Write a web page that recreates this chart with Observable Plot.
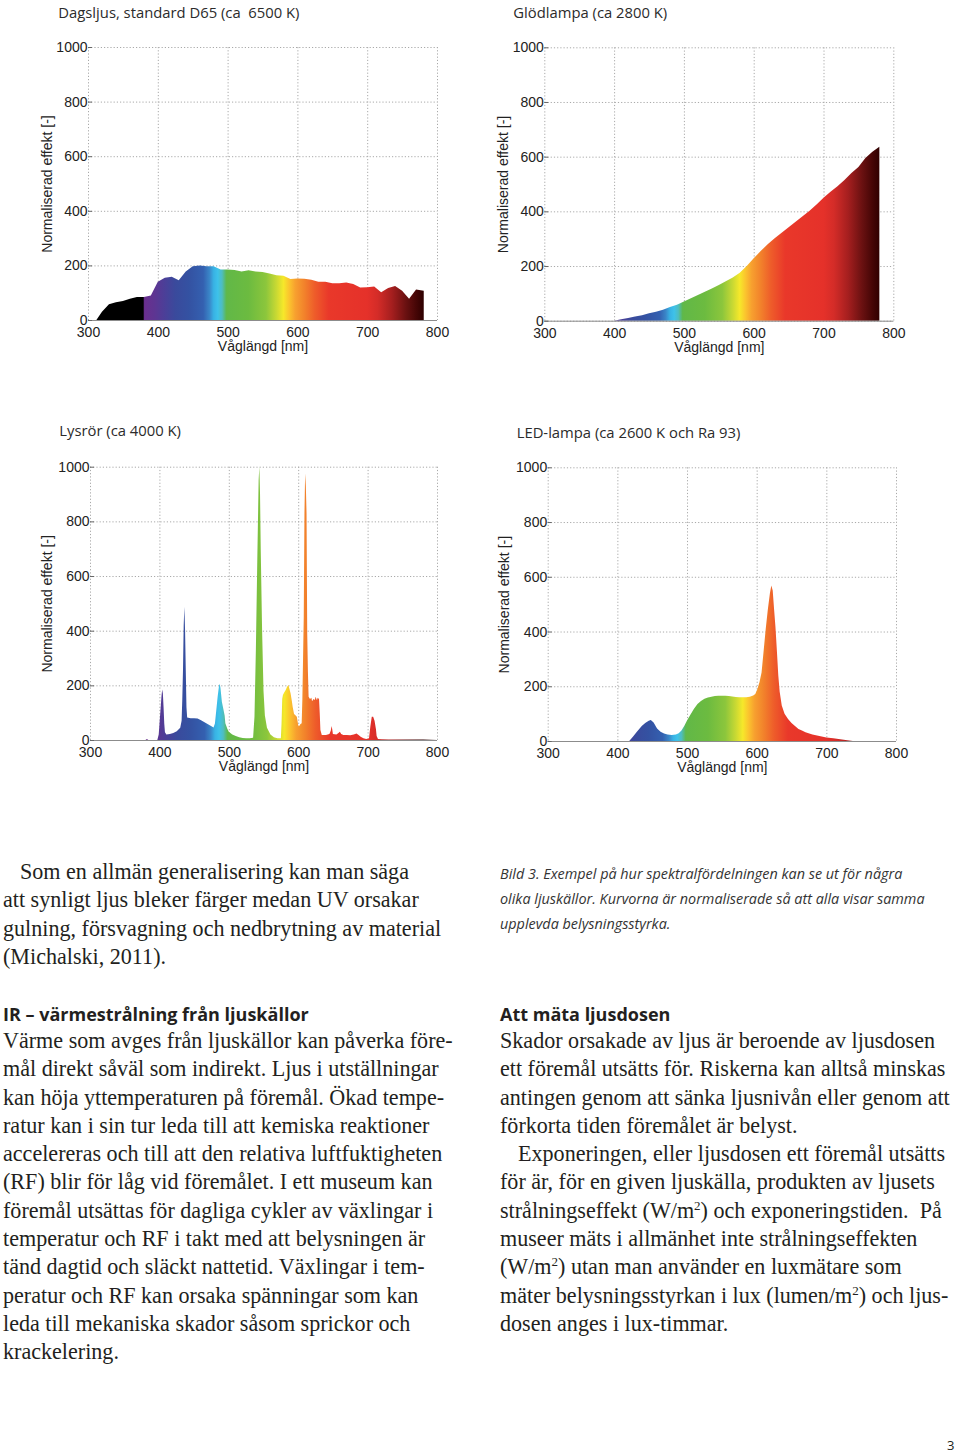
<!DOCTYPE html>
<html><head><meta charset="utf-8">
<script src="https://cdn.jsdelivr.net/npm/d3@7"></script>
<script src="https://cdn.jsdelivr.net/npm/@observablehq/plot@0.6"></script>
<style>
html,body{margin:0;padding:0;background:#fff;}
#page{position:relative;width:960px;height:1454px;overflow:hidden;background:#fff;}
.chart{position:absolute;}
.t{position:absolute;white-space:pre;line-height:0;}
.ctitle{font-family:"Open Sans",sans-serif;font-size:14.8px;color:#2b2b2b;}
.serif{font-family:"Liberation Serif",serif;font-size:22.1px;color:#231f20;}
.head{font-family:"Open Sans",sans-serif;font-weight:700;font-size:18px;color:#231f20;}
.cap{font-family:"Open Sans",sans-serif;font-style:italic;font-size:14.4px;color:#333;}
.pnum{font-family:"Open Sans",sans-serif;font-size:13px;color:#231f20;}
.sup{font-size:13px;position:relative;top:-8px;}
</style>
</head><body><div id="page"></div>
<script>
// ---------- data ----------
const xTicks = [300, 400, 500, 600, 700, 800];
const yTicks = [0, 200, 400, 600, 800, 1000];
const xLabel = "Våglängd [nm]";
const yLabel = "Normaliserad effekt [-]";
const chartTitles = ["Dagsljus, standard D65 (ca  6500 K)", "Glödlampa (ca 2800 K)", "Lysrör (ca 4000 K)", "LED-lampa (ca 2600 K och Ra 93)"];

const d65Nm  = [312,320,330,340,350,360,370,380,390,400,410,420,430,440,450,460,470,480,490,500,510,520,530,540,550,560,570,580,590,600,610,620,630,640,650,660,670,680,690,700,710,720,730,740,750,760,770,781];
const d65Val = [0,30,58,65,70,78,84,84,90,140,155,158,146,178,197,200,197,197,185,185,183,178,182,178,176,170,164,162,150,152,151,147,140,140,135,135,137,132,119,120,123,102,117,125,107,78,112,107];

const glodNm  = [400,410,420,430,440,450,460,470,480,490,500,510,520,530,540,550,560,570,580,590,600,610,620,630,640,650,660,670,680,690,700,710,720,730,740,750,760,770,780];
const glodVal = [0,5,10,15,20,27,33,40,50,58,70,82,94,106,118,131,144,158,175,200,228,255,280,302,322,342,362,382,402,425,450,472,492,515,540,562,595,618,636];

const lysrorNm  = [300,380,382,384,397,399,401,403,404,405,406,407,408,410,415,420,425,430,432,433,434,435,436,437,438,439,440,445,450,455,460,465,470,475,478,480,482,484,486,487,488,490,492,494,495,498,500,505,510,515,520,525,530,535,537,539,541,543,544,545,546,548,550,552,555,560,565,570,575,576,577,578,580,582,584,586,587,589,591,592,594,596,598,600,601,603,605,606,607,608,609,610,611,612,613,614,615,617,619,620,622,624,625,627,628,630,631,632,634,640,645,647,648,649,650,655,658,660,662,665,670,675,680,684,687,690,694,698,702,704,706,708,710,712,713,715,720,730,750,780,800];
const lysrorVal = [0,0,4,0,0,20,90,160,185,170,120,60,28,20,22,26,32,45,70,150,256,420,488,400,256,120,82,80,80,79,72,65,58,50,46,60,110,160,200,205,190,140,115,90,61,40,30,20,15,10,7,6,6,8,85,329,650,950,1000,900,700,400,180,90,45,20,10,6,6,60,150,165,175,183,195,201,190,171,140,122,95,91,85,55,49,58,61,150,300,451,830,975,930,830,390,250,158,150,155,142,150,146,158,145,155,150,100,37,18,18,22,35,51,40,22,20,26,30,22,18,18,17,20,24,18,12,6,4,6,50,85,85,70,40,15,4,3,2,2,2,0];

const ledNm  = [417,422,428,435,440,445,448,452,457,462,467,472,478,484,488,492,496,500,505,510,515,520,525,530,535,540,545,550,555,560,565,570,575,580,585,590,595,598,601,604,607,610,613,616,619,621,623,625,627,629,631,633,636,640,645,650,655,660,665,670,680,690,700,710,720,730,738];
const ledVal = [0,15,34,55,66,74,77,68,46,34,27,24,22,24,28,38,55,75,97,118,135,146,154,159,162,164,165,165,165,164,163,161,160,160,160,162,166,172,190,215,250,330,410,480,540,568,550,480,415,330,240,180,130,100,80,66,55,44,38,32,24,18,13,10,6,3,0];

// visible-spectrum colour stops (wavelength, colour)
const spectrumNm    = [300,379,381,395,410,425,445,465,474,480,486,492,498,500,530,555,570,580,588,597,610,625,645,700,715,735,755,770,780,800];
const spectrumColor = ["#000000","#000000","#6a2f8e","#5e3592","#4b3f98","#3a4a9c","#3452a2","#3460b0","#3a86c8","#38b2e4","#3ec2ea","#4ebdc0","#5db84f","#62b847","#6cbb40","#8cc63c","#c9d933","#f6e82a","#fbc52e","#f7a02f","#f2822b","#ee5c2a","#e9382a","#e5312a","#d42c28","#a61f1f","#6b1111","#460606","#300000","#200000"];

// ---------- text ----------
const leftPara1 = ["Som en allmän generalisering kan man säga","att synligt ljus bleker färger medan UV orsakar","gulning, försvagning och nedbrytning av material","(Michalski, 2011)."];
const leftHead = "IR – värmestrålning från ljuskällor";
const leftPara2 = ["Värme som avges från ljuskällor kan påverka före-","mål direkt såväl som indirekt. Ljus i utställningar","kan höja yttemperaturen på föremål. Ökad tempe-","ratur kan i sin tur leda till att kemiska reaktioner","accelereras och till att den relativa luftfuktigheten","(RF) blir för låg vid föremålet. I ett museum kan","föremål utsättas för dagliga cykler av växlingar i","temperatur och RF i takt med att belysningen är","tänd dagtid och släckt nattetid. Växlingar i tem-","peratur och RF kan orsaka spänningar som kan","leda till mekaniska skador såsom sprickor och","krackelering."];
const captionLines = ["Bild 3. Exempel på hur spektralfördelningen kan se ut för några","olika ljuskällor. Kurvorna är normaliserade så att alla visar samma","upplevda belysningsstyrka."];
const rightHead = "Att mäta ljusdosen";
const rightPara = ["Skador orsakade av ljus är beroende av ljusdosen","ett föremål utsätts för. Riskerna kan alltså minskas","antingen genom att sänka ljusnivån eller genom att","förkorta tiden föremålet är belyst.","Exponeringen, eller ljusdosen ett föremål utsätts","för är, för en given ljuskälla, produkten av ljusets","strålningseffekt (W/m²) och exponeringstiden.  På","museer mäts i allmänhet inte strålningseffekten","(W/m²) utan man använder en luxmätare som","mäter belysningsstyrkan i lux (lumen/m²) och ljus-","dosen anges i lux-timmar."];
const pageNumber = "3";

// ---------- layout ----------
const page = document.getElementById("page");
const series = [
  d65Nm.map((nm, i) => ({nm, v: d65Val[i]})),
  glodNm.map((nm, i) => ({nm, v: glodVal[i]})),
  lysrorNm.map((nm, i) => ({nm, v: lysrorVal[i]})),
  ledNm.map((nm, i) => ({nm, v: ledVal[i]}))
];
const layout = [
  {svg: [0, 30, 470, 330],   frame: [88, 47, 437, 320],     title: [58.3, 17.5],  ylab: 47},
  {svg: [480, 30, 470, 330], frame: [544.3, 47.3, 893.3, 320.7], title: [513.3, 17.5], ylab: 503},
  {svg: [0, 450, 470, 330],  frame: [90, 466.7, 437, 740],  title: [59.3, 435.7], ylab: 47},
  {svg: [480, 450, 470, 330],frame: [547.7, 467.3, 896, 741], title: [516.7, 437.7], ylab: 504}
];

function addText(str, cls, x, baseline, emOff, fs) {
  const d = document.createElement("div");
  d.className = "t " + cls;
  d.style.left = x + "px";
  d.style.top = (baseline - emOff * fs) + "px";
  d.innerHTML = str.replace(/²/g, '<span class="sup">2</span>');
  page.appendChild(d);
  return d;
}
const OPEN = 0.388, SERIF = 0.3375;

layout.forEach((L, k) => {
  const [sl, st, sw, sh] = L.svg;
  const [fl, ft, fr, fb] = L.frame;
  const id = "spec" + k;
  const svg = Plot.plot({
    width: sw, height: sh,
    marginLeft: fl - sl, marginTop: ft - st, marginRight: sl + sw - fr, marginBottom: st + sh - fb,
    x: {domain: [300, 800]},
    y: {domain: [0, 1000]},
    style: {fontFamily: "'Liberation Sans', Arial, sans-serif", fontSize: "14px", color: "#222", background: "none", overflow: "visible"},
    marks: [
      Plot.gridX({ticks: xTicks, stroke: "#a9a9a9", strokeOpacity: 1, strokeDasharray: "1.2,2"}),
      Plot.gridY({ticks: yTicks, stroke: "#a9a9a9", strokeOpacity: 1, strokeDasharray: "1.2,2"}),
      Plot.areaY(series[k], {x: "nm", y: "v", fill: `url(#${id})`}),
      Plot.ruleY([0], {stroke: "#8c8c8c"}),
      Plot.axisX({ticks: xTicks, tickFormat: d => String(d), tickSize: 0, tickPadding: 6.5, label: null, fontSize: 14}),
      Plot.axisY({ticks: yTicks, tickFormat: d => String(d), tickSize: -4, tickPadding: 5, label: null, fontSize: 14, stroke: "#666"}),
      Plot.text([xLabel], {text: d => d, frameAnchor: "bottom", dy: 30.5, fontSize: 14}),
      Plot.text([yLabel], {text: d => d, frameAnchor: "left", textAnchor: "middle", dx: L.ylab - fl, rotate: -90, fontSize: 14})
    ]
  });
  const sx = svg.scale("x");
  const grad = d3.select(svg).insert("defs", ":first-child")
    .append("linearGradient").attr("id", id).attr("gradientUnits", "userSpaceOnUse")
    .attr("x1", sx.apply(300)).attr("x2", sx.apply(800)).attr("y1", 0).attr("y2", 0);
  spectrumNm.forEach((nm, i) => grad.append("stop").attr("offset", (nm - 300) / 500).attr("stop-color", spectrumColor[i]));
  const wrap = document.createElement("div");
  wrap.className = "chart";
  wrap.style.left = sl + "px"; wrap.style.top = st + "px";
  wrap.appendChild(svg);
  page.appendChild(wrap);
  addText(chartTitles[k], "ctitle", L.title[0], L.title[1], OPEN, 14.8);
});

// body text
const LH = 28.33;
leftPara1.forEach((s, i) => addText(s, "serif", i === 0 ? 20 : 3, 879.3 + i * LH, SERIF, 22.1));
addText(leftHead, "head", 3, 1021, OPEN, 18);
leftPara2.forEach((s, i) => addText(s, "serif", 3, 1048.3 + i * LH, SERIF, 22.1));
captionLines.forEach((s, i) => addText(s, "cap", 500, 880 + i * 24.7, OPEN, 14.4));
addText(rightHead, "head", 500, 1021, OPEN, 18);
rightPara.forEach((s, i) => addText(s, "serif", i === 4 ? 518 : 500, 1048.3 + i * LH, SERIF, 22.1));
addText(pageNumber, "pnum", 947, 1450, OPEN, 13);
</script>
</body></html>
